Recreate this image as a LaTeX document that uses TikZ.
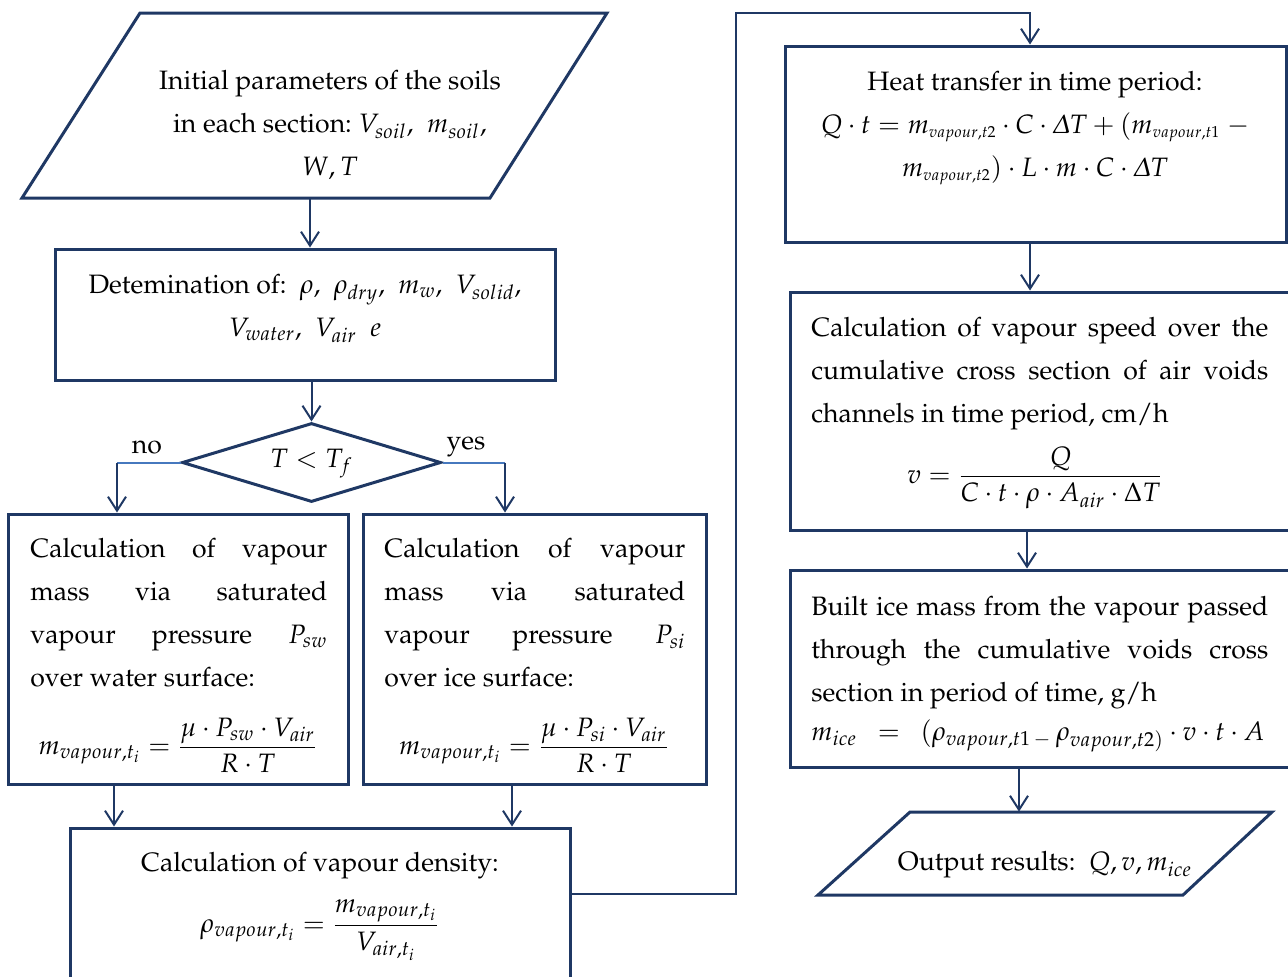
\documentclass[tikz,border=0pt]{standalone}
\usepackage[T1]{fontenc}
\usepackage{mathpazo}
\usepackage{amsmath}
\usetikzlibrary{arrows.meta,shapes.geometric,calc}
\definecolor{navy}{RGB}{31,56,100}
\definecolor{lightln}{RGB}{70,120,190}
\newcommand{\sbs}[1]{_{\scriptscriptstyle #1}}
\begin{document}
\begin{tikzpicture}[x=0.5pt,y=-0.5pt,
  box/.style={draw=navy,line width=1.5pt,rectangle,inner sep=0pt},
  boxline/.style={draw=navy,line width=1.5pt,line join=miter},
  ghost/.style={rectangle,inner sep=0pt,minimum width=1pt},
  arr/.style={draw=navy,line width=1pt,-{Straight Barb[length=7pt,width=9pt,line width=1pt]}},
  lightseg/.style={draw=lightln,line width=1pt},
  lbl/.style={inner sep=0pt,font=\fontsize{13.3}{21.5}\selectfont},
  para/.style={lbl,text width=#1,align=justify,anchor=north west},
]
\useasboundingbox (0,0) rectangle (1288,976);

% input parallelogram
\node[ghost,minimum height=92.5pt] (in) at (310,105.5) {};
\draw[boxline] (140,13) -- (607,13) -- (490,198) -- (22,198) -- cycle;
\node[lbl,align=center] (tin) at (330,125) {Initial parameters of the soils\\ in each section:\ $V_{soil}$,\ \ $m_{soil}$,\\ $W, T$};

% determination
\node[box,minimum width=250pt,minimum height=65.5pt] (det) at (305,314.5) {};
\node[lbl,align=center] (tdet) at (305,308.5) {Detemination of:\ \ $\rho$,\ \ $\rho_{dry}$,\ \ $m_w$,\ \ $V_{solid}$,\\ $V_{water}$,\ \ $V_{air}$\ \ $e$};

% decision
\node[draw=navy,line width=1.5pt,diamond,inner sep=0pt,minimum width=129.5pt,minimum height=39.5pt] (dec) at (311.5,462.5) {};
\node[lbl] (tdec) at (311.5,463.5) {$T < T_f$};
\node[lbl] (no) at (147,447) {no};
\node[lbl] (yes) at (466,447) {yes};

% left / right boxes
\node[box,minimum width=170pt,minimum height=135pt] (lbox) at (178,649) {};
\node[para=148.5pt] (tl) at (30,538) {Calculation of vapour\linebreak mass via saturated\linebreak vapour pressure $P_{sw}$\linebreak over water surface:};
\node[lbl] (fl) at (178,745) {$m_{vapour,t_i} = \dfrac{\mu\cdot P_{sw}\cdot V_{air}}{R\cdot T}$};

\node[box,minimum width=171.5pt,minimum height=135pt] (rbox) at (534.5,649) {};
\node[para=150.5pt] (tr) at (384,538) {Calculation of vapour\linebreak mass via saturated\linebreak vapour pressure $P_{si}$\linebreak over ice surface:};
\node[lbl] (fr) at (534,745) {$m_{vapour,t_i} = \dfrac{\mu\cdot P_{si}\cdot V_{air}}{R\cdot T}$};

% bottom box
\node[box,minimum width=250pt,minimum height=100pt] (bot) at (320,928) {};
\node[lbl] (tb) at (320,866) {Calculation of vapour density:};
\node[lbl] (fb) at (320,930) {$\rho_{vapour,t_i} = \dfrac{m_{vapour,t_i}}{V_{air,t_i}}$};

% heat box
\node[box,minimum width=250.5pt,minimum height=98pt] (heat) at (1035.5,144) {};
\node[lbl,align=center] (th) at (1035,128) {Heat transfer in time period:\\ $Q\cdot t = m\sbs{vapour,t2}\cdot C\cdot \varDelta T + (m\sbs{vapour,t1}\ -$\\ $m\sbs{vapour,t2})\cdot L\cdot m\cdot C\cdot \varDelta T$};

% speed box
\node[box,minimum width=250pt,minimum height=119pt] (speed) at (1040,411) {};
\node[para=228.5pt] (ts) at (811,317) {Calculation of vapour speed over the\linebreak cumulative cross section of air voids\linebreak channels in time period, cm/h};
\node[lbl] (fs) at (1035,478) {$v = \dfrac{Q}{C\cdot t\cdot \rho\cdot A_{air}\cdot \Delta T}$};

% ice box
\node[box,minimum width=250pt,minimum height=98.5pt] (ice) at (1040,668.5) {};
\node[para=228.5pt] (ti) at (811,596) {Built ice mass from the vapour passed\linebreak through the cumulative voids cross\linebreak section in period of time, g/h};
\node[lbl,anchor=west] (fi) at (811,736) {$m_{ice}\ \ =\ \ (\rho_{vapour,t1\,-}\,\rho_{vapour,t2)}\cdot v\cdot t\cdot A$};

% output parallelogram
\node[ghost,minimum height=41.5pt] (out) at (1019,853.5) {};
\draw[boxline] (910,812) -- (1272,812) -- (1183,895) -- (818,895) -- cycle;
\node[lbl] (to) at (1045,865) {Output results:\ \ $Q, v, m_{ice}$};

% connectors
\draw[arr] (in.south) -- (in.south |- det.north);
\draw[arr] (dec.north |- det.south) -- (dec.north);
\coordinate (nL) at (117,462.5);
\coordinate (yR) at (505,462.5);
\draw[lightseg] (dec.west) -- (nL);
\draw[lightseg] (dec.east) -- (yR);
\draw[arr] (nL) -- (nL |- lbox.north);
\draw[arr] (yR) -- (yR |- rbox.north);
\coordinate (lx) at (114,0);
\coordinate (rx) at (512,0);
\draw[arr] (lbox.south -| lx) -- (bot.north -| lx);
\draw[arr] (rbox.south -| rx) -- (bot.north -| rx);
\coordinate (bx) at ($(bot.north east)+(0,67)$);
\coordinate (j1) at (736,13);
\coordinate (hx) at (1030,0);
\draw[arr] (bx) -| (j1) -- (j1 -| hx) -- (heat.north -| hx);
\draw[arr] (heat.south -| hx) -- (speed.north -| hx);
\coordinate (sx) at (1027,0);
\draw[arr] (speed.south -| sx) -- (ice.north -| sx);
\draw[arr] (ice.south -| out) -- (out.north);
\end{tikzpicture}
\end{document}
